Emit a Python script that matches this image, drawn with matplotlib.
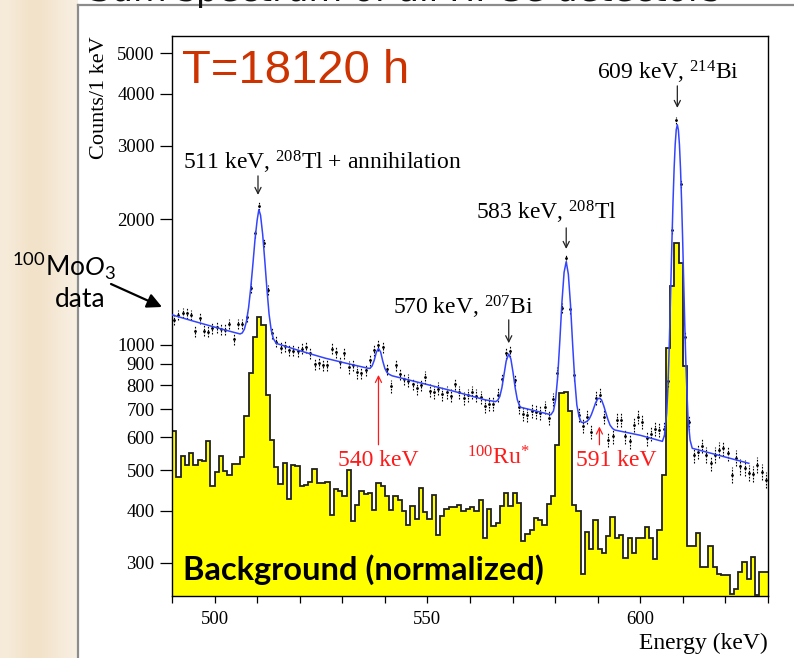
import numpy as np
import matplotlib
matplotlib.use("Agg")
import matplotlib.pyplot as plt
from matplotlib.transforms import Affine2D
from matplotlib.ticker import NullLocator
from matplotlib.colors import to_rgb

W, H = 794, 658

# 1 keV bins, 490-630 keV
bin_edges = np.arange(490, 631, 1)
bin_centres = bin_edges[:-1] + 0.5

# background spectrum (normalized), counts per bin
bkg_counts = [
    622, 482, 542, 515, 550, 515, 530, 527, 588, 458,     # 490
    496, 542, 499, 487, 519, 519, 538, 676, 855, 1047,    # 500
    1169, 1117, 759, 592, 509, 464, 520, 426, 515, 513,   # 510
    458, 462, 468, 503, 467, 467, 468, 392, 451, 447,     # 520
    433, 500, 378, 412, 447, 439, 442, 401, 467, 458,     # 530
    433, 401, 433, 424, 399, 370, 410, 383, 454, 397,     # 540
    383, 437, 351, 388, 403, 408, 408, 414, 400, 404,     # 550
    409, 400, 424, 344, 403, 368, 375, 410, 441, 410,     # 560
    442, 417, 338, 352, 360, 385, 380, 370, 416, 433,     # 570
    576, 766, 770, 695, 414, 400, 283, 356, 324, 380,     # 580
    324, 317, 349, 386, 344, 351, 308, 344, 317, 344,     # 590
    344, 365, 344, 307, 359, 488, 982, 1380, 1758, 1569,  # 600
    889, 329, 329, 353, 294, 294, 330, 294, 282, 281,     # 610
    281, 253, 260, 285, 302, 274, 310, 252, 285, 285,     # 620
]

# 100MoO3 data, counts per bin
data_counts = [
    1150, 1180, 1192, 1190, 1180, 1080, 1158, 1082, 1076, 1096,
    1103, 1090, 1086, 1123, 1032, 1123, 1123, 1166, 1367, 1850,
    2156, 1758, 1355, 1067, 1018, 985, 991, 973, 969, 966,
    980, 986, 955, 900, 905, 894, 896, 980, 963, 912,
    958, 883, 895, 859, 858, 870, 918, 970, 1000, 986,
    874, 795, 896, 853, 828, 821, 806, 788, 802, 836,
    777, 769, 785, 763, 769, 755, 806, 769, 745, 757,
    770, 755, 748, 715, 722, 722, 759, 829, 957, 964,
    824, 711, 684, 680, 695, 692, 686, 708, 667, 740,
    855, 1224, 1613, 1220, 847, 680, 640, 673, 619, 746,
    759, 673, 592, 603, 661, 661, 603, 587, 643, 673,
    654, 598, 612, 629, 626, 629, 820, 1886, 3450, 2430,
    1043, 652, 543, 555, 573, 545, 520, 545, 560, 565,
    550, 488, 535, 511, 507, 494, 490, 515, 496, 475,
]

# fitted curve
fit_energy = [
    490.0, 495.0, 500.0, 504.0, 506.0, 506.5, 507.0, 507.5, 508.0, 508.5,
    509.0, 509.5, 510.0, 510.4, 510.8, 511.3, 511.8, 512.3, 512.8, 513.3,
    513.8, 514.5, 520.0, 526.0, 531.0, 536.0, 536.5, 537.0, 537.5, 538.0,
    538.5, 539.0, 539.5, 540.0, 540.5, 541.0, 541.7, 550.0, 556.0, 563.6,
    566.0, 566.5, 567.0, 567.5, 568.0, 568.5, 569.1, 569.6, 570.1, 570.6,
    571.1, 571.6, 572.0, 579.0, 579.6, 580.1, 580.6, 581.1, 581.6, 582.1,
    582.6, 583.1, 583.6, 584.1, 584.6, 585.1, 585.6, 586.1, 586.5, 587.0,
    587.5, 588.0, 588.5, 589.0, 589.5, 590.0, 590.4, 590.9, 591.4, 591.9,
    592.4, 592.9, 593.5, 594.0, 600.0, 605.2, 605.7, 606.2, 606.45, 606.7,
    606.95, 607.2, 607.45, 607.7, 607.95, 608.2, 608.45, 608.7, 608.95, 609.2,
    609.45, 609.7, 609.95, 610.2, 610.45, 610.7, 611.2, 611.7, 612.2, 618.0,
    625.5,
]
fit_counts = [
    1180, 1140, 1103, 1075, 1062, 1068, 1090, 1140, 1230, 1370,
    1560, 1790, 1990, 2110, 2045, 1840, 1590, 1360, 1185, 1085,
    1035, 1008, 968, 929, 903, 879, 878, 890, 918, 960,
    980, 962, 915, 878, 858, 850, 843, 803, 775, 738,
    731, 736, 752, 790, 850, 915, 951, 925, 860, 790,
    740, 715, 708, 680, 694, 737, 839, 1022, 1267, 1492,
    1583, 1477, 1252, 1007, 824, 717, 674, 653, 651, 652,
    656, 664, 680, 702, 726, 742, 745, 738, 715, 688,
    662, 642, 630, 625, 607, 587, 608, 685, 773, 915,
    1130, 1426, 1799, 2221, 2650, 3024, 3281, 3370, 3273, 3016,
    2642, 2213, 1791, 1415, 1119, 904, 670, 591, 565, 545,
    520,
]

y_ticks = [300, 400, 500, 600, 700, 800, 900, 1000, 2000, 3000, 4000, 5000]
x_ticks = [490, 500, 510, 520, 530, 540, 550, 560, 570, 580, 590, 600, 610, 620, 630]
x_ticklabels = ["", "500", "", "", "", "", "550", "", "", "", "", "600", "", "", ""]

SERIF = "Liberation Serif"
plt.rcParams["font.family"] = SERIF
plt.rcParams["mathtext.fontset"] = "custom"
plt.rcParams["mathtext.rm"] = SERIF
plt.rcParams["mathtext.it"] = "Lato:italic"

fig = plt.figure(figsize=(W / 100, H / 100), dpi=100)
# pixel coordinates, origin top-left
pix = Affine2D().scale(1 / W, -1 / H).translate(0, 1) + fig.transFigure

# slide background: beige strip on the left, grey frame
bg = fig.add_axes([0, 0, 1, 1], zorder=-10)
bg.axis("off")
strip = np.array([[to_rgb(c) for c in ["#f7ecdb", "#f1e0c6", "#f3e4cd", "#f8efe2"]]])
bg.imshow(strip, extent=[0, 78, H, 0], aspect="auto", interpolation="bicubic")
bg.plot([78, 78], [5, H], color="#8c8c8c", lw=1.6)
bg.plot([78, W], [5, 5], color="#8c8c8c", lw=1.6)
bg.set_xlim(0, W)
bg.set_ylim(H, 0)

ax = fig.add_axes([172 / W, 1 - 596 / H, 596 / W, 560 / H])
ax.patch.set_alpha(0)

ax.stairs(bkg_counts, bin_edges, baseline=1, fill=True, color="#ffff00", zorder=1)
ax.stairs(bkg_counts, bin_edges, baseline=None, color="#222222", lw=1.3, zorder=2)
eb = ax.errorbar(bin_centres, data_counts, yerr=np.sqrt(data_counts), fmt=".",
                 ms=2, color="k", elinewidth=0.8, capsize=0, zorder=3)
eb[2][0].set_linestyle((0, (1.5, 1.2)))
ax.plot(fit_energy, fit_counts, color="#3344ff", lw=1.1, zorder=4)

ax.set_yscale("log")
ax.set_xlim(490, 630)
ax.set_ylim(250, 5500)
ax.set_yticks(y_ticks)
ax.set_yticklabels([str(t) for t in y_ticks])
ax.yaxis.set_minor_locator(NullLocator())
ax.set_xticks(x_ticks)
ax.set_xticklabels(x_ticklabels)
ax.tick_params(axis="y", direction="out", length=9, width=0.9, labelsize=13.5, pad=3.5)
ax.tick_params(axis="x", direction="out", length=5, width=0.9, labelsize=13.5, pad=6)
for s in ax.spines.values():
    s.set_linewidth(1.0)

ax.set_ylabel("Counts/1 keV", fontsize=16, loc="top")
ax.yaxis.set_label_coords(-0.105, 1.0)
ax.set_xlabel("Energy (keV)", fontsize=17, loc="right")
ax.xaxis.set_label_coords(1.0, -0.066)

# peak labels with arrows
black_labels = [
    (r"511 keV, $\mathregular{^{208}}$Tl + annihilation", 492.6, 2627),
    (r"583 keV, $\mathregular{^{208}}$Tl", 561.5, 1993),
    (r"570 keV, $\mathregular{^{207}}$Bi", 541.9, 1180),
    (r"609 keV, $\mathregular{^{214}}$Bi", 589.9, 4315),
]
for txt, x, y in black_labels:
    ax.text(x, y, txt, fontsize=17, va="baseline", ha="left", zorder=6)

black_arrows = [(510.2, 2541, 2288), (582.6, 1907, 1698), (569.1, 1148, 1009), (608.7, 4176, 3698)]
for x, y0, y1 in black_arrows:
    ax.annotate("", xy=(x, y1), xytext=(x, y0),
                arrowprops=dict(arrowstyle="->", color="#222222", lw=0.9,
                                mutation_scale=11, shrinkA=0, shrinkB=0), zorder=6)

red_labels = [
    ("540 keV", 529.0, 511),
    (r"$\mathregular{^{100}Ru^{*}}$", 559.4, 516),
    ("591 keV", 584.8, 511),
]
for txt, x, y in red_labels:
    ax.text(x, y, txt, fontsize=17, color="#ff1a1a", va="baseline", ha="left", zorder=6)

red_arrows = [(538.5, 576, 847), (590.4, 576, 637)]
for x, y0, y1 in red_arrows:
    ax.annotate("", xy=(x, y1), xytext=(x, y0),
                arrowprops=dict(arrowstyle="->", color="#ff1a1a", lw=0.9,
                                mutation_scale=11, shrinkA=0, shrinkB=0), zorder=6)

ax.text(182, 83, "T=18120 h", transform=pix, fontsize=34, color="#cc3300",
        family="Liberation Sans", va="baseline", ha="left", zorder=6)
ax.text(183, 580, "Background (normalized)", transform=pix, fontsize=23.5,
        family="Lato", weight="bold", va="baseline", ha="left", zorder=6)

# 100MoO3 data label on the left
ax.text(12, 276, r"$\mathregular{^{100}Mo}\mathit{O}\mathregular{_3}$", transform=pix,
        fontsize=19, family="Lato", va="baseline", ha="left", zorder=6)
ax.text(55, 307, "data", transform=pix, fontsize=19, family="Lato",
        va="baseline", ha="left", zorder=6)
ax.annotate("", xy=(162, 307), xytext=(111, 284), xycoords=pix, textcoords=pix,
            arrowprops=dict(arrowstyle="-|>", color="k", lw=1.6, mutation_scale=22,
                            shrinkA=0, shrinkB=0), annotation_clip=False, zorder=6)

# slide title, cut off by the top edge as in the slide
bg.text(89, 1.5, "Sum spectrum of all HPGe detectors", fontsize=25, family="DejaVu Sans",
        color="#111111", va="baseline", ha="left")

fig.savefig("out.png", dpi=100)
